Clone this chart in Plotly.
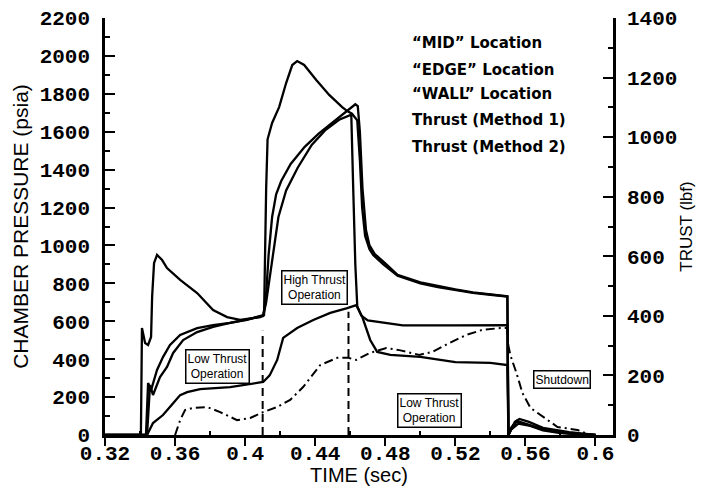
import plotly.graph_objects as go

# ---------------- data ----------------
mid_t = [0.320, 0.3405, 0.3411, 0.3429, 0.3446, 0.3463, 0.3469, 0.3480, 0.3497, 0.3526,
         0.3554, 0.3629, 0.3726, 0.3817, 0.3897, 0.3971, 0.4086, 0.4108, 0.4120, 0.4128,
         0.4154, 0.4194, 0.4234, 0.4269, 0.4297, 0.4337, 0.4406, 0.4480, 0.4554, 0.4583,
         0.4610, 0.4640, 0.4655, 0.4668, 0.4685, 0.4710, 0.4731, 0.4789, 0.4870, 0.5000,
         0.5100, 0.5200, 0.5300, 0.5400, 0.5497, 0.5503, 0.5520, 0.5550, 0.5600, 0.5700,
         0.5800, 0.5900, 0.6000]
mid_p = [0, 0, 564, 485, 475, 517, 728, 907, 950, 923,
         881, 818, 749, 659, 622, 607, 622, 633, 1300, 1560,
         1646, 1730, 1857, 1952, 1973, 1952, 1873, 1794, 1730, 1709,
         1695, 1660, 1450, 1200, 1050, 980, 950, 900, 840, 800,
         780, 765, 750, 740, 730, 0, 40, 75, 60, 30,
         15, 5, 0]

edge_t = [0.320, 0.3434, 0.3446, 0.3463, 0.3497, 0.3531, 0.3571, 0.3629, 0.3726, 0.3817,
          0.3914, 0.4011, 0.4103, 0.4117, 0.4134, 0.4154, 0.4177, 0.4206, 0.4260, 0.4340,
          0.4420, 0.4500, 0.4570, 0.4610, 0.4629, 0.4643, 0.4655, 0.4670, 0.4690, 0.4710,
          0.4740, 0.4800, 0.4870, 0.5000, 0.5100, 0.5200, 0.5300, 0.5400, 0.5497, 0.5503,
          0.5520, 0.5550, 0.5600, 0.5700, 0.5800, 0.5900, 0.6000]
edge_p = [0, 0, 274, 237, 343, 411, 475, 528, 564, 580,
          591, 607, 633, 700, 950, 1150, 1270, 1340, 1430, 1520,
          1590, 1650, 1700, 1730, 1745, 1735, 1600, 1300, 1080, 1000,
          955, 905, 845, 805, 785, 768, 752, 742, 732, 0,
          35, 70, 58, 28, 12, 4, 0]

wall_t = [0.320, 0.3440, 0.3457, 0.3474, 0.3514, 0.3554, 0.3589, 0.3646, 0.3726, 0.3817,
          0.3914, 0.4103, 0.4120, 0.4143, 0.4166, 0.4190, 0.4234, 0.4300, 0.4380, 0.4460,
          0.4540, 0.4597, 0.4606, 0.4617, 0.4629, 0.4640, 0.4663, 0.4700, 0.4800, 0.4900,
          0.5200, 0.5497, 0.5503, 0.5520, 0.5560, 0.5620, 0.5700, 0.5800, 0.6000]
wall_p = [0, 0, 264, 211, 306, 359, 433, 501, 543, 570,
          591, 628, 700, 850, 1020, 1150, 1290, 1410, 1530, 1610,
          1665, 1688, 1690, 1300, 900, 680, 630, 605, 590, 578,
          578, 580, 0, 30, 60, 50, 25, 10, 0]

thr1_t = [0.320, 0.3440, 0.3474, 0.3531, 0.3589, 0.3629, 0.3669, 0.3743, 0.3914, 0.4103,
          0.4140, 0.4183, 0.4217, 0.4297, 0.4389, 0.4486, 0.4583, 0.4634, 0.4669, 0.4714,
          0.4754, 0.4829, 0.5000, 0.5200, 0.5400, 0.5497, 0.5503, 0.5540, 0.5566, 0.5620,
          0.5700, 0.5850, 0.6000]
thr1_f = [0, 0, 40, 67, 107, 134, 144, 154, 161, 178,
          200, 252, 326, 359, 386, 410, 426, 436, 396, 319,
          279, 269, 262, 245, 242, 235, 0, 44, 54, 44,
          24, 10, 0]

thr2_t = [0.3600, 0.3629, 0.3657, 0.3703, 0.3783, 0.3857, 0.3954, 0.4029, 0.4103, 0.4183,
          0.4257, 0.4331, 0.4429, 0.4526, 0.4589, 0.4634, 0.4709, 0.4806, 0.4880, 0.4994,
          0.5069, 0.5166, 0.5263, 0.5354, 0.5457, 0.5497, 0.5503, 0.5514, 0.5549, 0.5571,
          0.5583, 0.5629, 0.5709, 0.5783, 0.5897, 0.5971]
thr2_f = [0, 50, 84, 91, 94, 77, 50, 57, 77, 94,
          118, 161, 235, 259, 259, 252, 275, 292, 285, 269,
          279, 309, 336, 353, 359, 359, 300, 268, 208, 168,
          141, 91, 57, 27, 17, 0]

legend_labels = ["\u201cMID\u201d Location", "\u201cEDGE\u201d Location", "\u201cWALL\u201d Location",
                 "Thrust (Method 1)", "Thrust (Method 2)"]

x_tickvals = [0.32, 0.36, 0.40, 0.44, 0.48, 0.52, 0.56, 0.60]
x_ticktext = ["0.32", "0.36", "0.4", "0.44", "0.48", "0.52", "0.56", "0.6"]

phase_x = [0.41, 0.459]           # vertical dashed phase boundaries (sec)
phase_top = [550, 650]            # their upper ends (psia)

box_labels = ["Low Thrust<br>Operation", "High Thrust<br>Operation",
              "Low Thrust<br>Operation", "Shutdown"]
box_t = [0.384, 0.4394, 0.5051, 0.5811]
box_p = [359, 776, 127, 295]

# ---------------- figure ----------------
LW = 2.3
fig = go.Figure()
for name, t, v in [(legend_labels[0], mid_t, mid_p),
                   (legend_labels[1], edge_t, edge_p),
                   (legend_labels[2], wall_t, wall_p)]:
    fig.add_trace(go.Scatter(x=t, y=v, mode="lines", name=name,
                             line=dict(color="black", width=LW), yaxis="y"))
fig.add_trace(go.Scatter(x=thr1_t, y=thr1_f, mode="lines", name=legend_labels[3],
                         line=dict(color="black", width=LW), yaxis="y2"))
fig.add_trace(go.Scatter(x=thr2_t, y=thr2_f, mode="lines", name=legend_labels[4],
                         line=dict(color="black", width=2.0, dash="9px,4px,2px,4px"),
                         yaxis="y2"))

for xv, top in zip(phase_x, phase_top):
    fig.add_shape(type="line", xref="x", yref="y", x0=xv, x1=xv, y0=0, y1=top,
                  line=dict(color="black", width=2, dash="8px,5px"))

tickfont = dict(family="Liberation Mono, Courier New, monospace", size=21,
                color="black", weight=700)

annotations = []
leg_y = [0.940, 0.876, 0.818, 0.755, 0.690]
for lab, yy in zip(legend_labels, leg_y):
    annotations.append(dict(text=lab, xref="paper", yref="paper", x=0.601, y=yy,
                            xanchor="left", yanchor="middle", showarrow=False,
                            font=dict(family="DejaVu Sans, Liberation Sans, sans-serif",
                                      size=15, color="black", weight=700)))
for lab, bt, bp in zip(box_labels, box_t, box_p):
    annotations.append(dict(text=lab, xref="x", yref="y", x=bt, y=bp,
                            xanchor="center", yanchor="middle", showarrow=False,
                            bordercolor="black", borderwidth=1.5, borderpad=1,
                            bgcolor="white",
                            font=dict(family="Liberation Sans, Arial, sans-serif",
                                      size=12, color="black")))

# the page body has an 8px margin, so the figure is sized/offset to keep the
# plot area at the reference position inside the 704x494 window
fig.update_layout(
    width=688, height=478,
    margin=dict(l=97, r=83, t=10, b=51),
    paper_bgcolor="white", plot_bgcolor="white",
    showlegend=False,
    annotations=annotations,
    xaxis=dict(range=[0.32, 0.61], tickvals=x_tickvals, ticktext=x_ticktext,
               automargin=False,
               ticks="outside", ticklen=8, tickwidth=2, tickcolor="black",
               minor=dict(tickvals=[0.34, 0.38, 0.42, 0.46, 0.50, 0.54, 0.58],
                          ticks="inside", ticklen=4, tickwidth=1.5, tickcolor="black"),
               showline=True, linecolor="black", linewidth=2.5,
               showgrid=False, zeroline=False, tickfont=tickfont,
               ticklabelstandoff=-11,
               title=dict(text="TIME (sec)", standoff=0,
                          font=dict(family="Liberation Sans, Arial, sans-serif",
                                    size=20, color="black"))),
    yaxis=dict(range=[0, 2200], dtick=200, ticks="inside", ticklen=10, tickwidth=2,
               tickcolor="black", automargin=False,
               minor=dict(dtick=100, ticks="inside", ticklen=5, tickwidth=1.5,
                          tickcolor="black"),
               showline=True, linecolor="black", linewidth=2.5,
               showgrid=False, zeroline=False, tickfont=tickfont,
               ticklabelstandoff=8,
               title=dict(text="CHAMBER PRESSURE (psia)", standoff=6,
                          font=dict(family="Liberation Sans, Arial, sans-serif",
                                    size=21, color="black"))),
    yaxis2=dict(range=[0, 1400], dtick=200, overlaying="y", side="right",
                automargin=False,
                ticks="inside", ticklen=10, tickwidth=2, tickcolor="black",
                minor=dict(dtick=100, ticks="inside", ticklen=5, tickwidth=1.5,
                           tickcolor="black"),
                showline=True, linecolor="black", linewidth=2.5,
                showgrid=False, zeroline=False, tickfont=tickfont,
                ticklabelstandoff=7,
                title=dict(text="TRUST (lbf)", standoff=6,
                           font=dict(family="Liberation Sans Narrow, Arial Narrow, Liberation Sans, sans-serif",
                                     size=17, color="black"))),
)

fig.write_html("out.html")
